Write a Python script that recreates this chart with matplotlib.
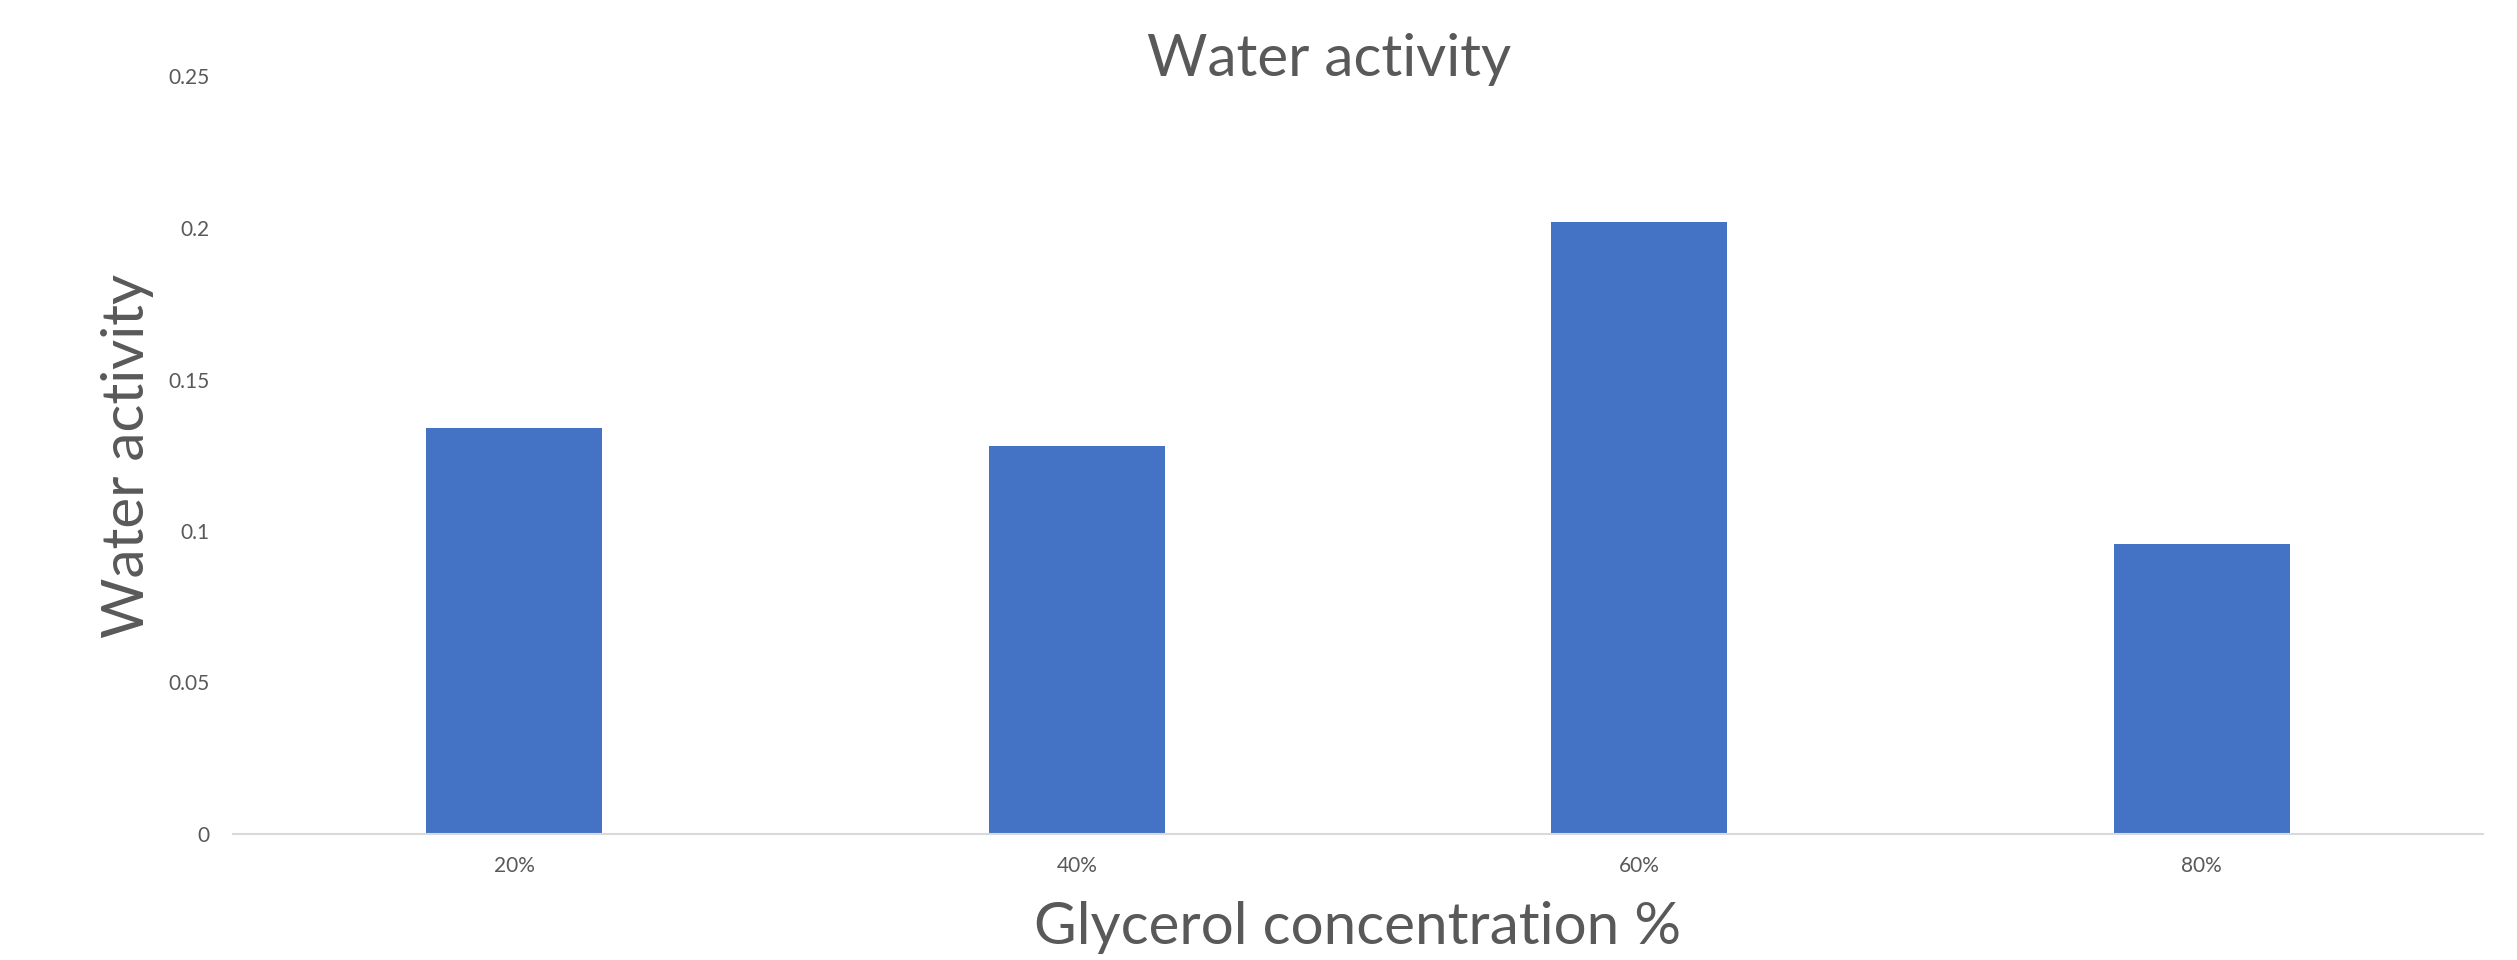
import matplotlib
matplotlib.use("Agg")
import matplotlib.pyplot as plt

categories = ["20%", "40%", "60%", "80%"]
values = [0.134, 0.128, 0.202, 0.0957]
yticks = [0, 0.05, 0.1, 0.15, 0.2, 0.25]
ytick_labels = ["0", "0.05", "0.1", "0.15", "0.2", "0.25"]

plt.rcParams['font.family'] = ['Lato', 'DejaVu Sans']
TXT = "#595959"

fig = plt.figure(figsize=(25.17, 9.6), dpi=100)
ax = fig.add_axes([233/2517, 1-834/960, (2483-233)/2517, (834-76.5)/960])

x = list(range(len(categories)))
ax.bar(x, values, width=0.313, color="#4472C4", zorder=2)
ax.set_xlim(-0.5, len(categories)-0.5)
ax.set_ylim(0, 0.25)
ax.set_yticks(yticks)
ax.set_yticklabels(ytick_labels)
ax.set_xticks(x)
ax.set_xticklabels(categories)

for s in ["top", "right", "left"]:
    ax.spines[s].set_visible(False)
ax.spines["bottom"].set_color("#D9D9D9")
ax.spines["bottom"].set_linewidth(1.5)
ax.tick_params(axis="both", length=0, labelsize=15, colors=TXT)
ax.tick_params(axis="y", pad=17)
ax.tick_params(axis="x", pad=16)

fig.text(1329/2517, 1-60/960, "Water activity", ha="center", va="center", fontsize=42, color=TXT)
fig.text(127/2517, 1-456/960, "Water activity", ha="center", va="center", rotation=90, fontsize=42, color=TXT)
fig.text(1358/2517, 1-928/960, "Glycerol concentration %", ha="center", va="center", fontsize=42, color=TXT)

fig.savefig("out.png", dpi=100)
